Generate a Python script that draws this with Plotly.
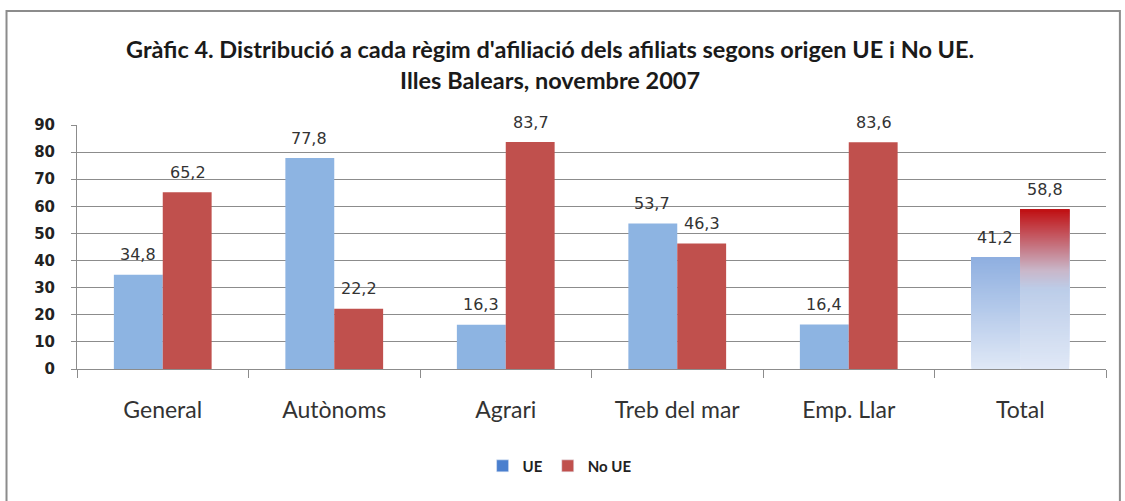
import plotly.graph_objects as go
import numpy as np

categories = ["General", "Autònoms", "Agrari", "Treb del mar", "Emp. Llar", "Total"]
ue_values = [34.8, 77.8, 16.3, 53.7, 16.4, 41.2]
noue_values = [65.2, 22.2, 83.7, 46.3, 83.6, 58.8]
y_ticks = [0, 10, 20, 30, 40, 50, 60, 70, 80, 90]

BLUE = "#8db4e2"
RED = "#c0504d"


def fmt(v):
    return f"{v:.1f}".replace(".", ",")


def lerp(c1, c2, t):
    a = np.array([int(c1[i:i + 2], 16) for i in (1, 3, 5)], float)
    b = np.array([int(c2[i:i + 2], 16) for i in (1, 3, 5)], float)
    c = a + (b - a) * t
    return "rgb(%d,%d,%d)" % tuple(c.round())


def grad(stops, f):
    for (f0, c0), (f1, c1) in zip(stops[:-1], stops[1:]):
        if f0 <= f <= f1:
            return lerp(c0, c1, (f - f0) / (f1 - f0) if f1 > f0 else 0)
    return stops[-1][1]


ue_stops = [(0.0, "#e0e8f6"), (1.0, "#8eafe0")]
noue_stops = [(0.0, "#e0e8f6"), (0.5, "#bccde9"), (0.62, "#c9b6c8"), (1.0, "#c00f12")]

fig = go.Figure()

n_main = len(categories) - 1
fig.add_trace(go.Bar(x=categories, y=ue_values, name="UE", offsetgroup="ue",
                     marker=dict(color=[BLUE] * n_main + ["rgba(0,0,0,0)"], line=dict(width=0)),
                     showlegend=False, hoverinfo="x+y"))
fig.add_trace(go.Bar(x=categories, y=noue_values, name="No UE", offsetgroup="noue",
                     marker=dict(color=[RED] * n_main + ["rgba(0,0,0,0)"], line=dict(width=0)),
                     showlegend=False, hoverinfo="x+y"))

# gradient fill for the Total bars: overlapping slices, each from its base to the bar top
N = 80
for val, group, stops in [(ue_values[-1], "ue", ue_stops), (noue_values[-1], "noue", noue_stops)]:
    bases = [val * i / N for i in range(N)]
    heights = [val - b for b in bases]
    cols = [grad(stops, (i + 0.5) / N) for i in range(N)]
    fig.add_trace(go.Bar(x=[categories[-1]] * N, y=heights, base=bases,
                         offsetgroup=group, showlegend=False, hoverinfo="skip",
                         marker=dict(color=cols, line=dict(width=0))))

# legend entries
fig.add_trace(go.Bar(x=[categories[0]], y=[None], name="UE", offsetgroup="ue",
                     marker=dict(color="#4a7fce")))
fig.add_trace(go.Bar(x=[categories[0]], y=[None], name="No UE", offsetgroup="noue",
                     marker=dict(color=RED)))

annotations = []
for cat, u, n in zip(categories, ue_values, noue_values):
    for v, dx in [(u, -25), (n, 25)]:
        annotations.append(dict(x=cat, y=v, text=fmt(v), showarrow=False, xshift=dx, yshift=20,
                                yanchor="middle", xref="x", yref="y",
                                font=dict(family="DejaVu Sans", size=16, color="#333333")))

fig.update_layout(
    width=1125, height=501,
    paper_bgcolor="white", plot_bgcolor="white",
    margin=dict(l=77, r=19, t=125, b=132),
    barmode="group", bargap=0.43, bargroupgap=0,
    title=dict(text="<b>Gràfic 4. Distribució a cada règim d'afiliació dels afiliats segons origen UE i No UE.<br>Illes Balears, novembre 2007</b>",
               x=0.489, xanchor="center", y=0.884, yanchor="middle",
               font=dict(family="Lato", size=23.5, color="#1a1a1a")),
    legend=dict(orientation="h", x=0.469, xanchor="center", y=-0.398, yanchor="middle",
                font=dict(family="Lato", size=15, color="#222222", weight="bold"),
                itemwidth=30, traceorder="normal"),
    annotations=annotations,
    shapes=[dict(type="rect", xref="paper", yref="paper", x0=-0.0685, x1=1.0135, y0=-0.62, y1=1.467,
                 line=dict(color="#8c8c8c", width=2), fillcolor="rgba(0,0,0,0)", layer="below")],
)
fig.update_xaxes(showgrid=False, showline=True, linecolor="#8c8c8c", linewidth=1,
                 ticks="outside", tickson="boundaries", ticklen=8, tickcolor="#8c8c8c",
                 ticklabelstandoff=20,
                 tickfont=dict(family="Lato", size=23, color="#333333"))
fig.update_yaxes(range=[0, 90], tickvals=y_ticks, showgrid=True, gridcolor="#8c8c8c", gridwidth=1,
                 showline=True, linecolor="#8c8c8c", linewidth=1, ticks="outside", ticklen=5,
                 tickcolor="#8c8c8c", ticklabelstandoff=13, zeroline=False,
                 tickfont=dict(family="DejaVu Sans", size=15, color="#222222", weight="bold"))

fig.write_html("out.html", config={"displayModeBar": False},
               post_script="document.body.style.margin='0';")
